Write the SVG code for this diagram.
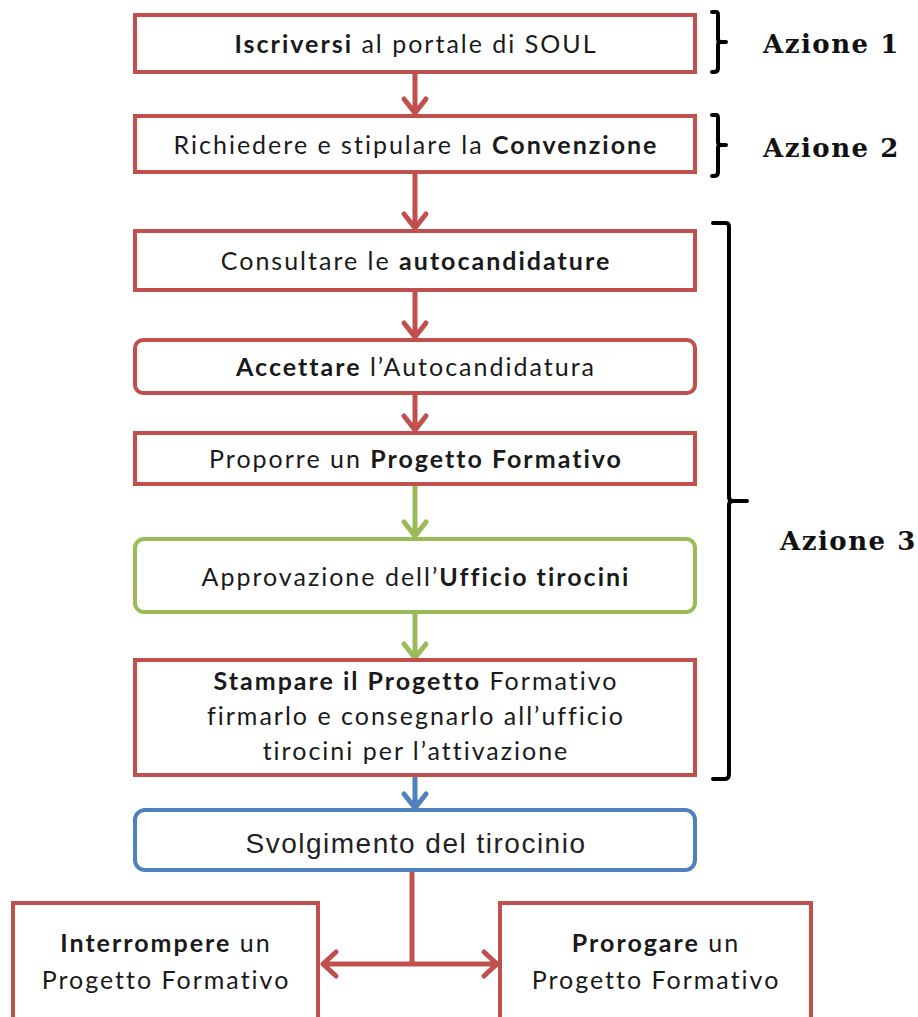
<svg xmlns="http://www.w3.org/2000/svg" width="918" height="1017" viewBox="0 0 918 1017">
<style>
.box{fill:#fff;stroke-width:4}
.red{stroke:#c0504d}
.green{stroke:#9bbb59}
.blue{stroke:#4f81bd}
.t{font-family:Lato,"Open Sans","Liberation Sans",sans-serif;font-size:25px;letter-spacing:2px;font-variant-ligatures:none;fill:#1a1a1a;text-anchor:middle}
.b{font-weight:bold}
.sv{font-family:"Liberation Sans",Arial,sans-serif;font-size:28px;letter-spacing:1.5px;fill:#222;text-anchor:middle}
.az{font-family:"DejaVu Serif","Liberation Serif",serif;font-weight:bold;font-size:26px;letter-spacing:1.5px;fill:#111}
.ln{fill:none;stroke-width:5;stroke-linecap:round;stroke-linejoin:round}
.br{fill:none;stroke:#000;stroke-width:4;stroke-linecap:round;stroke-linejoin:round}
</style>
<rect width="918" height="1017" fill="#fff"/>
<g id="connectors">
  <path class="ln red" d="M415 73V113M404 99L415 113L426 99"/>
  <path class="ln red" d="M415 173V228M404 214L415 228L426 214"/>
  <path class="ln red" d="M415 291V337M404 323L415 337L426 323"/>
  <path class="ln red" d="M415 394V430M404 416L415 430L426 416"/>
  <path class="ln green" d="M415 486V536M404 522L415 536L426 522"/>
  <path class="ln green" d="M415 614V658M404 644L415 658L426 644"/>
  <path class="ln blue" d="M415 777V808M404 794L415 808L426 794"/>
  <path class="ln red" d="M412 872V964M323 964H497M336 952L323 964L336 976M484 952L497 964L484 976"/>
</g>
<g id="n1"><rect class="box red" x="135" y="15" width="560" height="57"/>
<text class="t" x="416" y="53"><tspan class="b">Iscriversi</tspan> al portale di SOUL</text></g>
<g id="n2"><rect class="box red" x="135" y="116" width="560" height="56"/>
<text class="t" x="416" y="154">Richiedere e stipulare la <tspan class="b">Convenzione</tspan></text></g>
<g id="n3"><rect class="box red" x="135" y="231" width="560" height="59"/>
<text class="t" x="416" y="270">Consultare le <tspan class="b">autocandidature</tspan></text></g>
<g id="n4"><rect class="box red" x="135" y="340" width="560" height="53" rx="8"/>
<text class="t" x="416" y="376"><tspan class="b">Accettare</tspan> l’Autocandidatura</text></g>
<g id="n5"><rect class="box red" x="135" y="433" width="560" height="51"/>
<text class="t" x="416" y="468">Proporre un <tspan class="b">Progetto Formativo</tspan></text></g>
<g id="n6"><rect class="box green" x="135" y="539" width="560" height="73" rx="9"/>
<text class="t" x="416" y="586">Approvazione dell’<tspan class="b">Ufficio tirocini</tspan></text></g>
<g id="n7"><rect class="box red" x="135" y="660" width="560" height="115"/>
<text class="t" x="416" y="690"><tspan class="b">Stampare il Progetto</tspan> Formativo</text>
<text class="t" x="416" y="725">firmarlo e consegnarlo all’ufficio</text>
<text class="t" x="416" y="760">tirocini per l’attivazione</text></g>
<g id="n8"><rect class="box blue" x="135" y="810" width="560" height="60" rx="10"/>
<text class="sv" x="416" y="853">Svolgimento del tirocinio</text></g>
<g id="n9"><rect class="box red" x="13" y="903" width="305" height="120"/>
<text class="t" x="166" y="952"><tspan class="b">Interrompere</tspan> un</text>
<text class="t" x="166" y="989">Progetto Formativo</text></g>
<g id="n10"><rect class="box red" x="500" y="903" width="311" height="120"/>
<text class="t" x="656" y="952"><tspan class="b">Prorogare</tspan> un</text>
<text class="t" x="656" y="989">Progetto Formativo</text></g>
<g id="brace1"><path class="br" d="M712 12H716Q718 12 718 15V39Q718 42 721 42H726M721 42Q718 42 718 45V68Q718 72 714 72H712"/>
<text class="az" x="763" y="53">Azione 1</text></g>
<g id="brace2"><path class="br" d="M712 115H716Q718 115 718 118V142Q718 145 721 145H726M721 145Q718 145 718 148V172Q718 176 714 176H712"/>
<text class="az" x="763" y="157">Azione 2</text></g>
<g id="brace3"><path class="br" d="M713 223H726Q729 223 729 227V497Q729 501 733 501H747M733 501Q729 501 729 505V774Q729 779 725 779H713"/>
<text class="az" x="780" y="550">Azione 3</text></g>
</svg>
